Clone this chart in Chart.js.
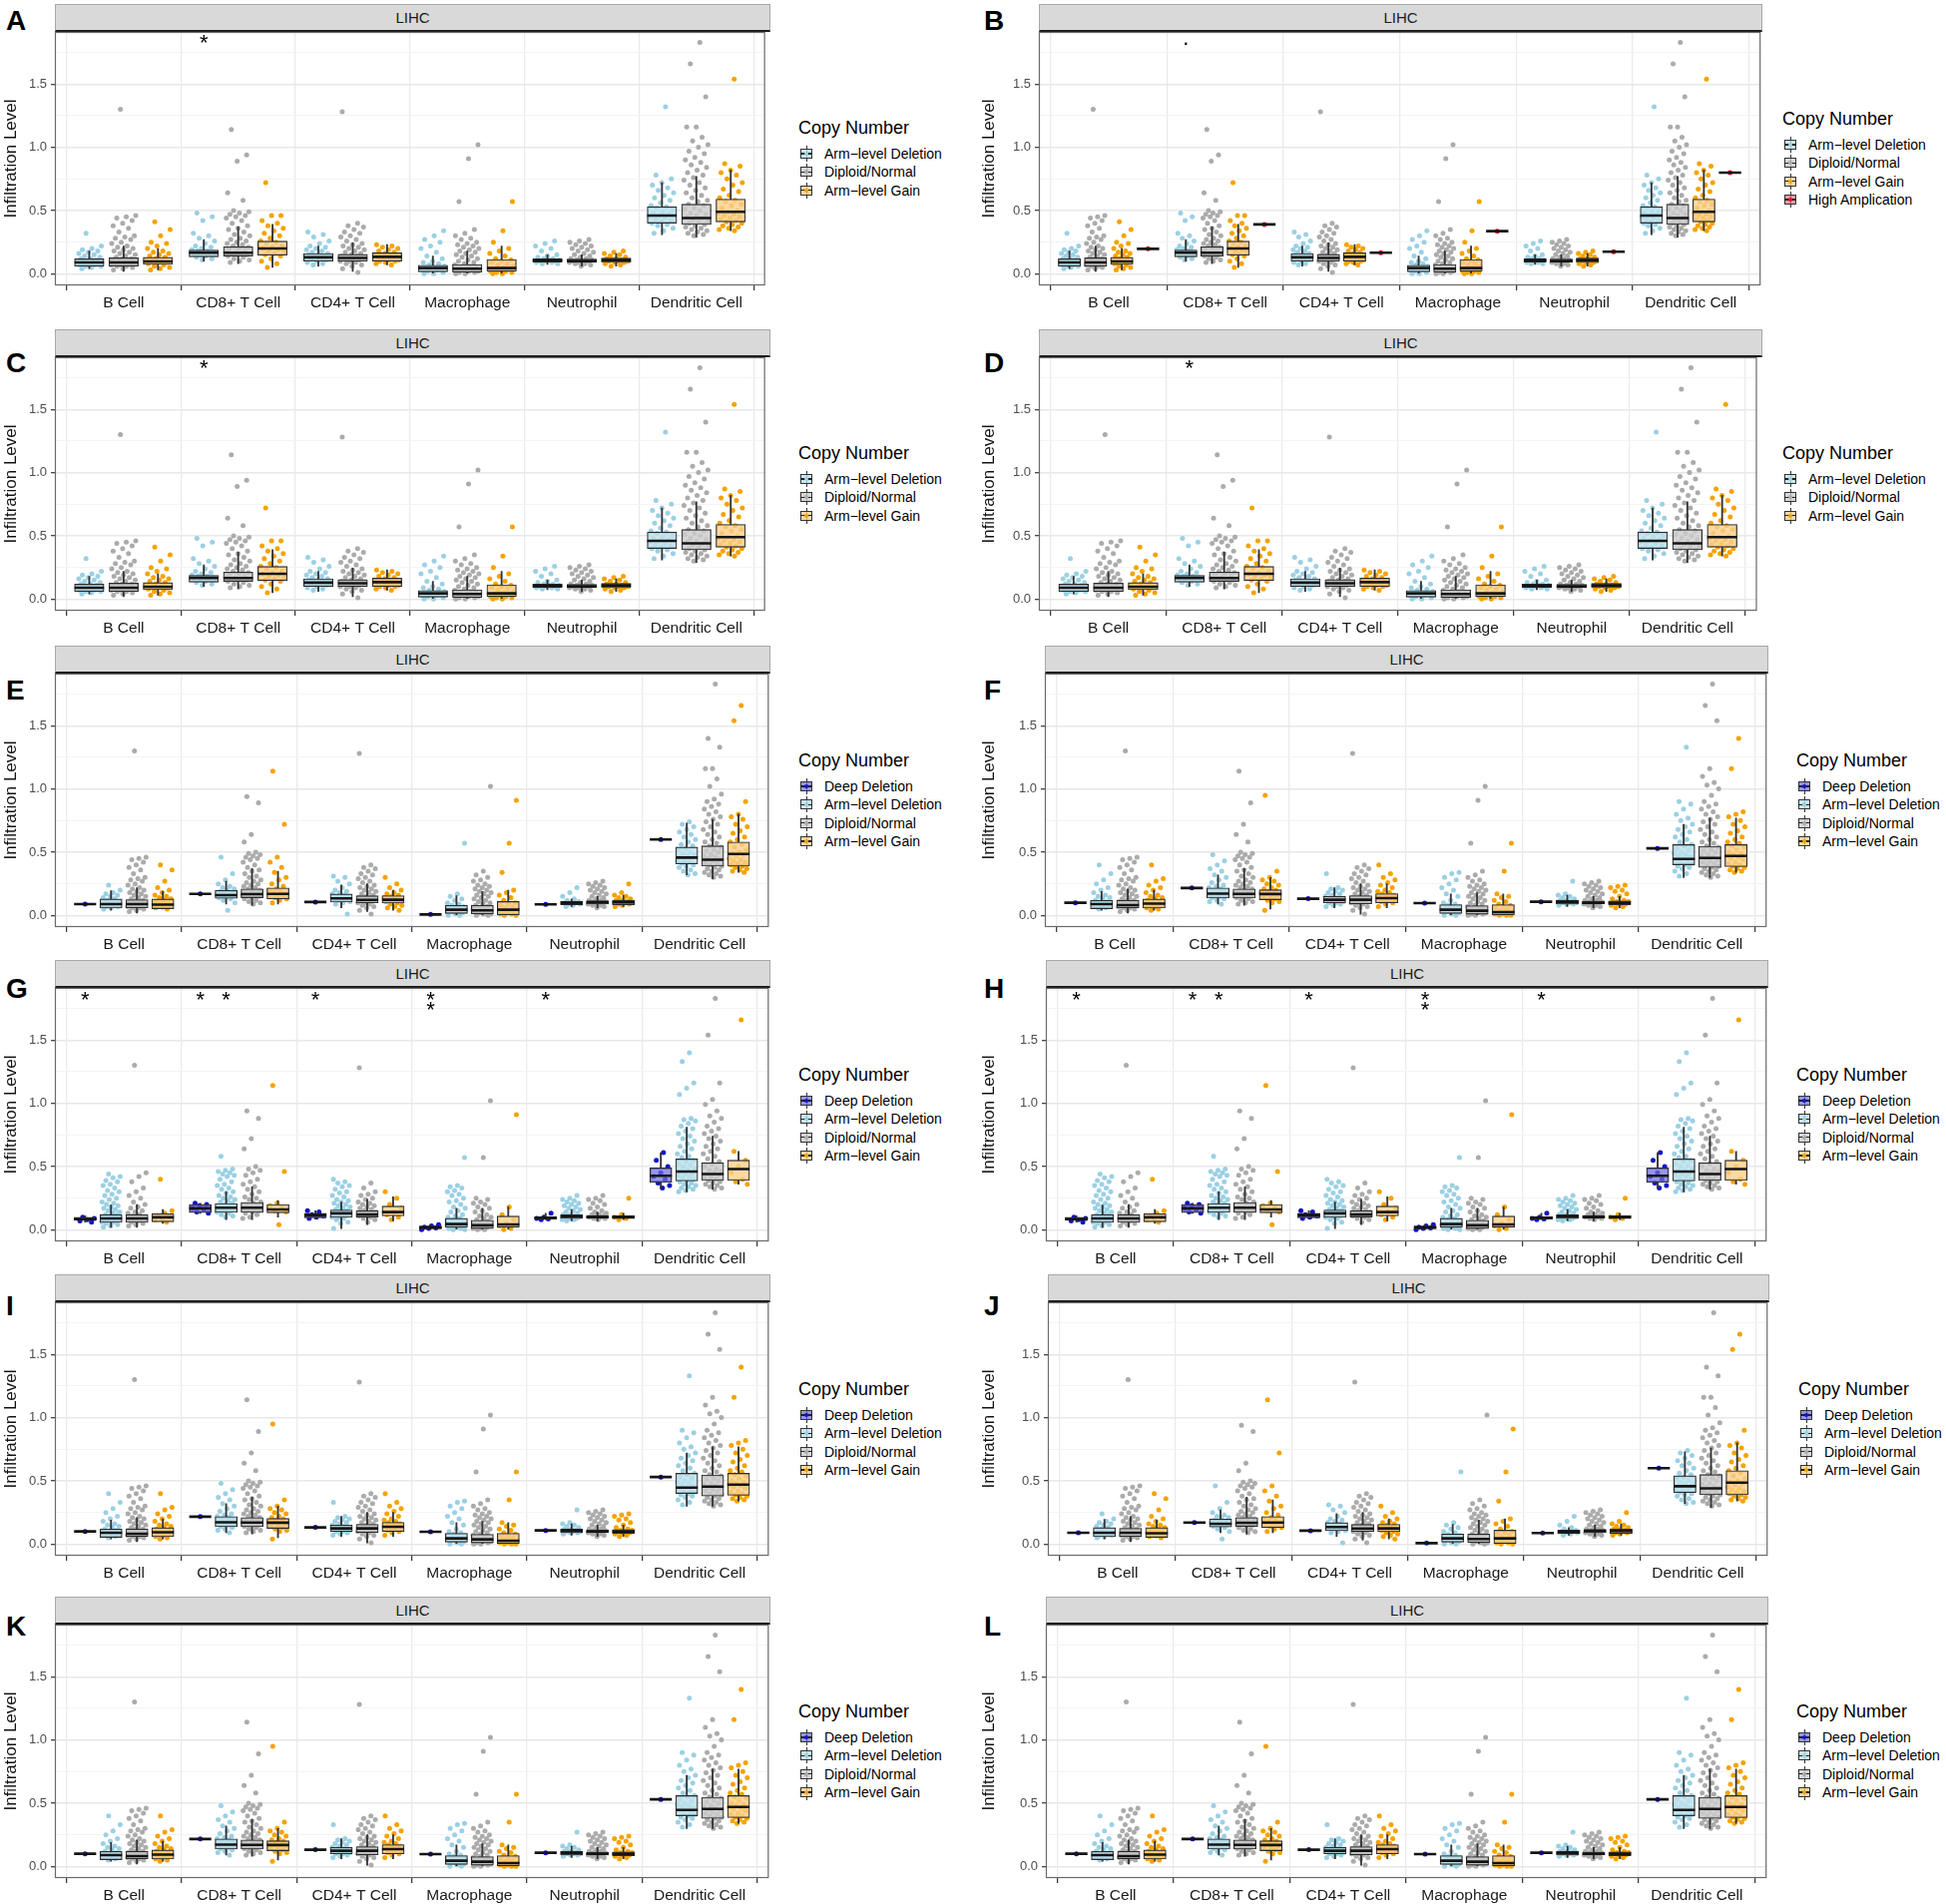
<!DOCTYPE html>
<html><head><meta charset="utf-8">
<script src="https://cdn.jsdelivr.net/npm/chart.js@4.4.1/dist/chart.umd.min.js"></script>
<style>
html,body{margin:0;padding:0;background:#fff;}
#root{position:relative;width:1950px;height:1908px;overflow:hidden;background:#fff;font-family:'Liberation Sans',Arial,Helvetica,sans-serif;}
.strip{position:absolute;height:28px;box-sizing:border-box;background:#d9d9d9;border:1px solid #a8a8a8;border-bottom:2px solid #1a1a1a;text-align:center;font-size:15px;line-height:26px;color:#1a1a1a;}
.letter{position:absolute;font-weight:bold;font-size:28px;line-height:30px;color:#000;}
.legend{position:absolute;color:#000;}
.legend .ttl{font-size:18px;line-height:22px;height:22px;margin-bottom:6px;white-space:nowrap;}
.legend .it{position:relative;height:18.3px;line-height:18.3px;font-size:14px;padding-left:26px;white-space:nowrap;}
.glyph{position:absolute;left:1px;top:1px;width:14px;height:16px;}
.glyph .wh{position:absolute;left:6.5px;top:0;width:1px;height:16px;background:#333;}
.glyph .bx{position:absolute;left:1px;top:3px;width:12px;height:10px;box-sizing:border-box;border:1px solid #333;}
.glyph .md{position:absolute;left:1px;top:7.3px;width:12px;height:1.5px;background:#222;}
.glyph .dt{position:absolute;left:5px;top:6px;width:4px;height:4px;border-radius:2px;}
canvas{position:absolute;}
</style>
</head><body><div id="root"></div>
<script>
// ---------- categories / labels ----------
const cells = ['B Cell','CD8+ T Cell','CD4+ T Cell','Macrophage','Neutrophil','Dendritic Cell'];
const yTicks = [0,0.25,0.5,0.75,1,1.25,1.5,1.75];
const groupLabels = {deep:'Deep Deletion', del:'Arm\u2212level Deletion', dip:'Diploid/Normal', gain:'Arm\u2212level Gain', amp:'High Amplication'};
const stripText = 'LIHC';
const legendTitle = 'Copy Number';
const yTitle = 'Infiltration Level';

// ---------- box stats per cell: [lower whisker, Q1, median, Q3, upper whisker] ----------
// Set A (panels A, B, C, D)
const boxA_del  = [[0.04,0.06,0.089,0.118,0.18],[0.10,0.134,0.166,0.187,0.27],[0.06,0.10,0.13,0.16,0.22],[0.0,0.016,0.045,0.068,0.14],[0.075,0.092,0.105,0.118,0.15],[0.31,0.40,0.46,0.53,0.72]];
const boxA_dip  = [[0.02,0.06,0.09,0.126,0.22],[0.08,0.14,0.166,0.213,0.37],[0.02,0.10,0.125,0.153,0.245],[0.0,0.013,0.04,0.074,0.18],[0.06,0.09,0.10,0.116,0.15],[0.29,0.39,0.44,0.55,0.77]];
const boxA_gain = [[0.03,0.074,0.097,0.13,0.2],[0.05,0.147,0.2,0.258,0.39],[0.07,0.10,0.134,0.165,0.23],[0.0,0.02,0.045,0.113,0.22],[0.06,0.09,0.108,0.124,0.16],[0.34,0.41,0.49,0.59,0.82]];
const ampB = [0.197,0.39,0.166,0.337,0.174,0.80];
// Set E (panels E, J)
const deepE = [0.09,0.17,0.106,0.008,0.087,0.6];
const boxE_del  = [[0.04,0.058,0.09,0.13,0.195],[0.09,0.135,0.161,0.198,0.27],[0.06,0.106,0.135,0.169,0.24],[0.0,0.016,0.045,0.079,0.155],[0.07,0.085,0.098,0.11,0.13],[0.32,0.407,0.457,0.54,0.73]];
const boxE_dip  = [[0.02,0.06,0.09,0.125,0.22],[0.08,0.14,0.168,0.21,0.37],[0.03,0.10,0.123,0.155,0.25],[0.0,0.012,0.04,0.08,0.19],[0.06,0.09,0.103,0.116,0.15],[0.29,0.39,0.44,0.55,0.76]];
const boxE_gain = [[0.05,0.053,0.085,0.13,0.19],[0.09,0.13,0.17,0.217,0.35],[0.04,0.098,0.124,0.156,0.2],[0.0,0.005,0.045,0.11,0.2],[0.07,0.085,0.103,0.12,0.16],[0.34,0.39,0.486,0.58,0.8]];
// Set F (panels F, I, K, L)
const deepF = [0.1,0.217,0.132,0.097,0.108,0.53];
const boxF_del  = [[0.04,0.053,0.09,0.119,0.19],[0.09,0.137,0.172,0.217,0.32],[0.06,0.10,0.124,0.15,0.22],[0.0,0.016,0.045,0.085,0.17],[0.07,0.09,0.106,0.12,0.16],[0.30,0.40,0.446,0.56,0.72]];
const boxF_dip  = [[0.02,0.06,0.082,0.12,0.21],[0.08,0.137,0.17,0.21,0.37],[0.01,0.092,0.124,0.156,0.25],[0.0,0.01,0.037,0.077,0.18],[0.06,0.09,0.10,0.113,0.15],[0.30,0.38,0.454,0.547,0.77]];
const boxF_gain = [[0.04,0.058,0.093,0.13,0.2],[0.05,0.124,0.169,0.203,0.3],[0.06,0.10,0.137,0.172,0.25],[0.0,0.005,0.026,0.085,0.17],[0.06,0.085,0.10,0.115,0.15],[0.34,0.385,0.47,0.56,0.77]];
// Set G (panels G, H)
const boxG_deep = [[0.06,0.074,0.084,0.098,0.11],[0.13,0.135,0.169,0.2,0.21],[0.09,0.095,0.116,0.13,0.15],[0.0,0.008,0.018,0.03,0.04],[0.08,0.084,0.095,0.102,0.13],[0.33,0.374,0.427,0.49,0.61]];
const boxG_del  = [[0.02,0.058,0.09,0.12,0.195],[0.08,0.137,0.174,0.208,0.3],[0.01,0.098,0.13,0.156,0.22],[0.0,0.02,0.045,0.09,0.17],[0.07,0.09,0.105,0.118,0.16],[0.30,0.385,0.46,0.56,0.81]];
const boxG_dip  = [[0.02,0.058,0.09,0.12,0.2],[0.08,0.137,0.174,0.216,0.34],[0.04,0.10,0.12,0.15,0.24],[0.0,0.01,0.035,0.075,0.17],[0.07,0.092,0.10,0.112,0.14],[0.32,0.39,0.44,0.53,0.74]];
const boxG_gain = [[0.05,0.063,0.098,0.127,0.16],[0.10,0.134,0.16,0.2,0.23],[0.07,0.11,0.14,0.187,0.26],[0.0,0.02,0.042,0.108,0.18],[0.08,0.088,0.10,0.11,0.13],[0.36,0.39,0.48,0.55,0.62]];

// ---------- sample points (infiltration level) per cell ----------
// Diploid/Normal bulk shared by sets A, E, F, plus per-set outlying samples
const dipCore = [
 [0.46,0.45,0.44,0.42,0.4,0.38,0.36,0.33,0.3,0.29,0.28,0.27,0.25,0.24,0.22,0.21,0.2,0.19,0.18,0.17,0.16,0.15,0.14,0.13,0.12,0.12,0.11,0.1,0.1,0.09,0.09,0.08,0.08,0.07,0.07,0.06,0.06,0.05,0.04,0.03],
 [0.5,0.49,0.48,0.47,0.46,0.45,0.44,0.42,0.4,0.38,0.36,0.35,0.33,0.31,0.3,0.28,0.27,0.26,0.25,0.24,0.23,0.22,0.21,0.2,0.19,0.18,0.17,0.17,0.16,0.16,0.15,0.15,0.14,0.13,0.12,0.11,0.1,0.09],
 [0.4,0.38,0.37,0.35,0.33,0.32,0.3,0.29,0.27,0.26,0.24,0.23,0.22,0.21,0.2,0.19,0.18,0.17,0.16,0.15,0.14,0.14,0.13,0.13,0.12,0.12,0.11,0.1,0.1,0.09,0.08,0.07,0.06,0.04,0.01],
 [0.35,0.32,0.3,0.28,0.27,0.25,0.24,0.23,0.22,0.21,0.2,0.19,0.18,0.17,0.16,0.15,0.14,0.13,0.12,0.11,0.1,0.09,0.08,0.07,0.06,0.05,0.05,0.04,0.04,0.03,0.03,0.02,0.02,0.01,0.01,0.0,0.0],
 [0.27,0.26,0.25,0.24,0.23,0.22,0.21,0.2,0.19,0.18,0.17,0.16,0.15,0.14,0.13,0.12,0.12,0.11,0.11,0.1,0.1,0.1,0.09,0.09,0.08,0.08,0.07,0.06],
 [0.9,0.88,0.86,0.84,0.82,0.8,0.78,0.76,0.74,0.72,0.7,0.68,0.66,0.64,0.62,0.6,0.58,0.57,0.55,0.54,0.52,0.51,0.5,0.48,0.47,0.46,0.45,0.44,0.43,0.42,0.41,0.4,0.39,0.38,0.37,0.36,0.35,0.34,0.33,0.32,0.31,0.3]];
const outA_dip = [[1.3],[1.14,0.94,0.89,0.64,0.58],[1.28],[1.02,0.91,0.57],[],[1.83,1.66,1.4,1.16,1.16,1.08,1.05,1.02,1.0,0.97,0.95,0.92]];
const outE_dip = [[1.3],[0.94,0.89,0.64,0.58],[1.28],[1.02],[],[1.83,1.4,1.33,1.16,1.16,1.08,1.02,0.96,0.92]];
const outF_dip = [[1.3],[1.14,0.89,0.72,0.64,0.58],[1.28],[1.02,0.91,0.57],[],[1.83,1.66,1.54,1.16,1.1,1.05,1.03,1.0,0.95]];

const ptsA_del = [
 [0.32,0.22,0.2,0.19,0.18,0.17,0.16,0.15,0.14,0.13,0.12,0.12,0.11,0.1,0.1,0.09,0.09,0.08,0.08,0.07,0.07,0.06,0.06,0.05,0.04],
 [0.48,0.45,0.42,0.32,0.3,0.28,0.26,0.24,0.22,0.21,0.2,0.19,0.18,0.18,0.17,0.17,0.16,0.16,0.15,0.15,0.14,0.13,0.12,0.11],
 [0.33,0.31,0.29,0.26,0.24,0.22,0.21,0.2,0.19,0.18,0.17,0.16,0.15,0.15,0.14,0.14,0.13,0.12,0.12,0.11,0.1,0.09,0.08,0.07],
 [0.34,0.3,0.27,0.25,0.22,0.2,0.17,0.14,0.12,0.1,0.09,0.08,0.07,0.06,0.05,0.05,0.04,0.04,0.03,0.03,0.02,0.01,0.0,0.0],
 [0.26,0.24,0.22,0.2,0.18,0.15,0.14,0.13,0.12,0.12,0.11,0.11,0.1,0.1,0.1,0.09,0.09,0.08,0.08],
 [1.32,0.78,0.75,0.72,0.7,0.68,0.66,0.64,0.62,0.6,0.58,0.56,0.54,0.53,0.52,0.5,0.49,0.48,0.47,0.46,0.45,0.44,0.43,0.42,0.41,0.4,0.39,0.38,0.36,0.34,0.32]];
const ptsA_gain = [
 [0.41,0.35,0.3,0.25,0.24,0.22,0.2,0.18,0.17,0.16,0.15,0.14,0.13,0.12,0.11,0.1,0.1,0.09,0.09,0.08,0.07,0.06,0.05,0.04,0.03],
 [0.72,0.46,0.46,0.42,0.4,0.38,0.36,0.34,0.32,0.3,0.28,0.26,0.25,0.24,0.22,0.21,0.2,0.19,0.18,0.17,0.16,0.15,0.14,0.12,0.1,0.08,0.05],
 [0.23,0.22,0.21,0.2,0.19,0.18,0.17,0.16,0.15,0.15,0.14,0.14,0.13,0.13,0.12,0.12,0.11,0.11,0.1,0.1,0.09,0.08,0.07],
 [0.57,0.34,0.25,0.2,0.18,0.16,0.14,0.12,0.11,0.1,0.09,0.08,0.07,0.06,0.05,0.04,0.04,0.03,0.02,0.02,0.01,0.01,0.0,0.0],
 [0.18,0.17,0.16,0.15,0.14,0.13,0.12,0.12,0.11,0.11,0.1,0.1,0.1,0.09,0.09,0.08,0.07,0.06],
 [1.54,0.87,0.85,0.82,0.8,0.78,0.75,0.72,0.7,0.67,0.65,0.62,0.6,0.58,0.57,0.55,0.54,0.52,0.5,0.49,0.48,0.47,0.46,0.45,0.44,0.43,0.42,0.41,0.4,0.39,0.38,0.37,0.36,0.35,0.34]];
const ptsE_del = [
 [0.24,0.2,0.18,0.17,0.16,0.15,0.14,0.13,0.12,0.11,0.1,0.1,0.09,0.09,0.08,0.08,0.07,0.07,0.06,0.05],
 [0.46,0.33,0.28,0.25,0.23,0.22,0.21,0.2,0.19,0.18,0.17,0.17,0.16,0.16,0.15,0.15,0.14,0.13,0.12,0.1,0.04],
 [0.31,0.3,0.27,0.25,0.22,0.2,0.19,0.18,0.17,0.16,0.15,0.14,0.14,0.13,0.13,0.12,0.11,0.1,0.09,0.01],
 [0.57,0.17,0.15,0.13,0.12,0.1,0.09,0.08,0.07,0.06,0.05,0.05,0.04,0.04,0.03,0.03,0.02,0.01,0.0,0.0],
 [0.22,0.18,0.15,0.13,0.12,0.11,0.1,0.1,0.1,0.09,0.09,0.08,0.07],
 [0.74,0.72,0.7,0.68,0.66,0.64,0.62,0.6,0.58,0.56,0.55,0.53,0.52,0.5,0.49,0.48,0.47,0.46,0.45,0.44,0.43,0.42,0.41,0.4,0.39,0.38,0.36,0.35,0.33,0.32]];
const ptsE_gain = [
 [0.4,0.36,0.27,0.22,0.2,0.18,0.16,0.15,0.14,0.13,0.12,0.11,0.1,0.1,0.09,0.09,0.08,0.07,0.07,0.06,0.05],
 [1.14,0.72,0.46,0.42,0.38,0.34,0.3,0.28,0.25,0.23,0.21,0.2,0.19,0.18,0.17,0.16,0.16,0.15,0.14,0.13,0.12,0.1],
 [0.3,0.25,0.22,0.2,0.18,0.17,0.16,0.15,0.14,0.13,0.13,0.12,0.12,0.11,0.1,0.09,0.08,0.07,0.06,0.04],
 [0.91,0.57,0.34,0.2,0.18,0.16,0.14,0.12,0.1,0.09,0.08,0.07,0.06,0.05,0.04,0.03,0.03,0.02,0.01,0.01,0.0,0.0],
 [0.25,0.18,0.16,0.15,0.14,0.13,0.12,0.12,0.11,0.11,0.1,0.1,0.09,0.09,0.08,0.07],
 [1.66,1.54,0.9,0.8,0.78,0.76,0.72,0.7,0.67,0.65,0.62,0.6,0.58,0.56,0.54,0.52,0.5,0.49,0.48,0.47,0.45,0.44,0.43,0.42,0.41,0.4,0.39,0.38,0.37,0.36,0.35,0.34]];
const ptsF_del = [
 [0.4,0.33,0.28,0.25,0.22,0.2,0.18,0.16,0.15,0.14,0.13,0.12,0.11,0.1,0.1,0.09,0.09,0.08,0.08,0.07,0.06,0.05],
 [0.48,0.43,0.4,0.37,0.35,0.32,0.3,0.28,0.26,0.24,0.23,0.22,0.21,0.2,0.19,0.18,0.17,0.17,0.16,0.16,0.15,0.14,0.13,0.12,0.11,0.09],
 [0.33,0.22,0.21,0.2,0.19,0.18,0.17,0.16,0.15,0.14,0.14,0.13,0.13,0.12,0.12,0.11,0.11,0.1,0.1,0.09,0.08,0.07],
 [0.34,0.33,0.3,0.28,0.25,0.22,0.2,0.17,0.15,0.12,0.1,0.09,0.08,0.07,0.06,0.05,0.05,0.04,0.04,0.03,0.03,0.02,0.01,0.0,0.0],
 [0.27,0.17,0.16,0.15,0.14,0.13,0.12,0.12,0.11,0.11,0.1,0.1,0.1,0.09,0.09,0.08],
 [1.33,0.9,0.88,0.84,0.8,0.77,0.75,0.72,0.7,0.68,0.66,0.64,0.62,0.6,0.58,0.56,0.55,0.53,0.52,0.5,0.49,0.48,0.47,0.46,0.45,0.44,0.43,0.42,0.41,0.4,0.39,0.38,0.37,0.35,0.33,0.31]];
const ptsF_gain = [
 [0.4,0.29,0.27,0.24,0.22,0.2,0.18,0.16,0.15,0.14,0.13,0.12,0.11,0.1,0.1,0.09,0.09,0.08,0.07,0.06,0.05,0.04],
 [0.95,0.35,0.3,0.28,0.27,0.25,0.24,0.22,0.21,0.2,0.19,0.18,0.17,0.17,0.16,0.15,0.14,0.13,0.12,0.11,0.1,0.04],
 [0.4,0.33,0.3,0.28,0.26,0.24,0.22,0.2,0.19,0.18,0.17,0.16,0.15,0.14,0.14,0.13,0.12,0.12,0.11,0.1,0.09,0.07],
 [0.57,0.35,0.17,0.15,0.14,0.12,0.11,0.09,0.08,0.07,0.06,0.05,0.04,0.03,0.03,0.02,0.02,0.01,0.01,0.0,0.0,0.0],
 [0.24,0.23,0.22,0.2,0.19,0.17,0.15,0.13,0.12,0.11,0.11,0.1,0.1,0.09,0.09,0.08,0.07,0.06],
 [1.4,1.16,0.82,0.8,0.78,0.75,0.72,0.7,0.67,0.65,0.62,0.6,0.58,0.57,0.55,0.54,0.52,0.5,0.49,0.48,0.47,0.46,0.45,0.44,0.42,0.41,0.4,0.39,0.38,0.37,0.36,0.35,0.34]];
const ptsG_deep = [
 [0.1,0.09,0.08,0.07,0.06],
 [0.21,0.2,0.19,0.17,0.16,0.14,0.13],
 [0.15,0.14,0.12,0.11,0.1,0.09],
 [0.04,0.03,0.02,0.015,0.01,0.0],
 [0.13,0.1,0.09,0.085,0.08],
 [0.61,0.55,0.5,0.45,0.42,0.4,0.37,0.35,0.33]];
const ptsG_del = [
 [0.44,0.42,0.41,0.39,0.38,0.36,0.35,0.33,0.31,0.3,0.28,0.27,0.25,0.24,0.22,0.21,0.2,0.19,0.18,0.17,0.16,0.15,0.14,0.13,0.12,0.12,0.11,0.1,0.1,0.09,0.09,0.08,0.08,0.07,0.07,0.06,0.06,0.05,0.04,0.03,0.02],
 [0.58,0.48,0.47,0.46,0.45,0.44,0.43,0.42,0.4,0.38,0.36,0.35,0.33,0.32,0.3,0.29,0.27,0.26,0.25,0.24,0.23,0.22,0.21,0.2,0.19,0.18,0.17,0.17,0.16,0.16,0.15,0.15,0.14,0.13,0.12,0.11,0.1],
 [0.4,0.38,0.37,0.35,0.34,0.32,0.3,0.29,0.27,0.26,0.24,0.23,0.22,0.21,0.2,0.19,0.18,0.17,0.16,0.15,0.15,0.14,0.14,0.13,0.13,0.12,0.12,0.11,0.1,0.1,0.09,0.08,0.06,0.05,0.01],
 [0.57,0.35,0.34,0.33,0.31,0.3,0.28,0.27,0.25,0.23,0.22,0.2,0.18,0.17,0.15,0.14,0.12,0.11,0.1,0.09,0.08,0.07,0.06,0.05,0.05,0.04,0.04,0.03,0.03,0.02,0.02,0.01,0.01,0.0,0.0],
 [0.27,0.25,0.24,0.23,0.22,0.21,0.2,0.19,0.18,0.17,0.16,0.15,0.14,0.13,0.12,0.12,0.11,0.11,0.1,0.1,0.1,0.09,0.09,0.08,0.08,0.07],
 [1.4,1.33,1.16,1.12,1.07,0.88,0.87,0.86,0.84,0.82,0.8,0.78,0.76,0.74,0.72,0.7,0.68,0.66,0.64,0.62,0.6,0.58,0.57,0.55,0.54,0.52,0.51,0.5,0.48,0.47,0.46,0.45,0.44,0.43,0.42,0.41,0.4,0.39,0.38,0.37,0.36,0.35,0.34,0.33,0.32,0.31,0.3]];
const ptsG_dip = [
 [1.3,0.45,0.42,0.38,0.33,0.3,0.27,0.25,0.22,0.2,0.18,0.17,0.15,0.14,0.13,0.12,0.11,0.1,0.1,0.09,0.09,0.08,0.08,0.07,0.06,0.05,0.04,0.03],
 [0.94,0.88,0.72,0.64,0.5,0.48,0.47,0.45,0.43,0.4,0.38,0.36,0.34,0.32,0.3,0.28,0.26,0.25,0.24,0.22,0.21,0.2,0.19,0.18,0.17,0.17,0.16,0.15,0.14,0.13,0.12,0.1,0.09],
 [1.28,0.37,0.33,0.3,0.28,0.27,0.25,0.24,0.22,0.21,0.2,0.19,0.18,0.17,0.16,0.15,0.14,0.13,0.13,0.12,0.12,0.11,0.1,0.09,0.08,0.06],
 [1.02,0.57,0.25,0.24,0.22,0.21,0.2,0.18,0.17,0.15,0.14,0.12,0.11,0.1,0.09,0.08,0.07,0.06,0.05,0.04,0.04,0.03,0.03,0.02,0.02,0.01,0.01,0.0,0.0],
 [0.27,0.25,0.24,0.23,0.21,0.2,0.18,0.17,0.15,0.14,0.13,0.12,0.12,0.11,0.11,0.1,0.1,0.09,0.09,0.08],
 [1.83,1.54,1.16,1.03,0.99,0.94,0.9,0.88,0.85,0.82,0.8,0.78,0.76,0.74,0.72,0.7,0.68,0.66,0.64,0.62,0.6,0.58,0.56,0.54,0.52,0.5,0.48,0.47,0.46,0.45,0.44,0.43,0.42,0.41,0.4,0.39,0.38,0.37,0.36,0.35,0.34,0.33,0.32]];
const ptsG_gain = [
 [0.4,0.15,0.13,0.11,0.1,0.09,0.08,0.06],
 [1.14,0.46,0.21,0.19,0.17,0.15,0.14,0.04],
 [0.3,0.25,0.2,0.17,0.14,0.12,0.1,0.08],
 [0.91,0.18,0.12,0.08,0.05,0.03,0.01,0.0],
 [0.25,0.12,0.1,0.09,0.08],
 [1.66,0.62,0.55,0.5,0.45,0.4,0.38,0.36]];

// ---------- significance marks: [cell index, group, label, level] ----------
const starsACD = [[1,'del','*',1.857]];
const starsB   = [[1,'del','.',1.82]];
const starsGH  = [[0,'deep','*',1.85],[1,'deep','*',1.85],[1,'del','*',1.85],[2,'deep','*',1.85],[3,'deep','*',1.85],[3,'deep','*',1.772],[4,'deep','*',1.85]];

// ---------- assemble data sets ----------
const single = vals => ({box: vals.map(v=>[v,v,v,v,v]), pts: vals.map(v=>[v])});
const joinPts = (a, b) => a.map((arr,i)=> arr.concat(b[i]));
const dataSets = {
  A: {del:{box:boxA_del,pts:ptsA_del}, dip:{box:boxA_dip,pts:joinPts(outA_dip,dipCore)}, gain:{box:boxA_gain,pts:ptsA_gain}, amp: single(ampB)},
  E: {deep: single(deepE), del:{box:boxE_del,pts:ptsE_del}, dip:{box:boxE_dip,pts:joinPts(outE_dip,dipCore)}, gain:{box:boxE_gain,pts:ptsE_gain}},
  F: {deep: single(deepF), del:{box:boxF_del,pts:ptsF_del}, dip:{box:boxF_dip,pts:joinPts(outF_dip,dipCore)}, gain:{box:boxF_gain,pts:ptsF_gain}},
  G: {deep:{box:boxG_deep,pts:ptsG_deep}, del:{box:boxG_del,pts:ptsG_del}, dip:{box:boxG_dip,pts:ptsG_dip}, gain:{box:boxG_gain,pts:ptsG_gain}}
};

// ---------- styles ----------
const FONT = "'Liberation Sans', Arial, Helvetica, sans-serif";
const groupStyle = {
  deep: {pt:'#1414c8', fill:'rgba(110,110,225,0.72)'},
  del:  {pt:'#9bd0e4', fill:'rgba(190,226,238,0.8)'},
  dip:  {pt:'#ababab', fill:'rgba(205,205,205,0.8)'},
  gain: {pt:'#f5a300', fill:'rgba(250,208,140,0.8)'},
  amp:  {pt:'#e8102c', fill:'rgba(235,110,130,0.7)'}
};
const rowTop = [4, 330, 647, 962, 1277, 1600];
const letterMid = [17, 34, 45, 29, 32, 30];
const G3 = ['del','dip','gain'], G4 = ['deep','del','dip','gain'];
const panels = [
 {id:'A',col:0,row:0,set:'A',groups:G3,stars:starsACD,pl:55,pr:772,lx:800},
 {id:'B',col:1,row:0,set:'A',groups:['del','dip','gain','amp'],stars:starsB,pl:1041,pr:1766,lx:1786},
 {id:'C',col:0,row:1,set:'A',groups:G3,stars:starsACD,pl:55,pr:772,lx:800},
 {id:'D',col:1,row:1,set:'A',groups:G3,stars:starsACD,pl:1041,pr:1766,lx:1786},
 {id:'E',col:0,row:2,set:'E',groups:G4,stars:[],pl:55,pr:772,lx:800},
 {id:'F',col:1,row:2,set:'F',groups:G4,stars:[],pl:1047,pr:1772,lx:1800},
 {id:'G',col:0,row:3,set:'G',groups:G4,stars:starsGH,pl:55,pr:772,lx:800},
 {id:'H',col:1,row:3,set:'G',groups:G4,stars:starsGH,pl:1048,pr:1772,lx:1800},
 {id:'I',col:0,row:4,set:'F',groups:G4,stars:[],pl:55,pr:772,lx:800},
 {id:'J',col:1,row:4,set:'E',groups:G4,stars:[],pl:1050,pr:1773,lx:1802},
 {id:'K',col:0,row:5,set:'F',groups:G4,stars:[],pl:55,pr:772,lx:800},
 {id:'L',col:1,row:5,set:'F',groups:G4,stars:[],pl:1048,pr:1772,lx:1800}
];

Chart.defaults.font.family = FONT;
const root = document.getElementById('root');
const isMajor = v => Math.abs(v*2 - Math.round(v*2)) < 1e-6;
const jit = k => ((k * 0.6180339887 + 0.37) % 1) - 0.5;

function el(tag, cls, css, text){ const e=document.createElement(tag); if(cls) e.className=cls; Object.assign(e.style, css||{}); if(text!=null) e.textContent=text; root.appendChild(e); return e; }

const framePlugin = {
  id:'frame',
  afterDatasetsDraw(chart, args, opts){
    const {ctx, chartArea:a, scales:{x,y}} = chart;
    ctx.save();
    ctx.fillStyle = '#000'; ctx.textAlign='center'; ctx.textBaseline='alphabetic';
    ctx.font = '22px ' + FONT;
    (opts.stars||[]).forEach(s=>{
      const px = x.getPixelForValue(s[0] + 1 + opts.offsets[s[1]]);
      const py = y.getPixelForValue(s[3]);
      const m = ctx.measureText(s[2]);
      const base = py + (m.actualBoundingBoxAscent - m.actualBoundingBoxDescent)/2;
      ctx.fillText(s[2], px, base);
    });
    ctx.strokeStyle = '#6a6a6a'; ctx.lineWidth = 1.2;
    ctx.strokeRect(a.left+0.5, a.top+0.5, a.right-a.left-1, a.bottom-a.top-1);
    ctx.restore();
  }
};

panels.forEach(p=>{
  const T = rowTop[p.row];
  const cx = p.col===0 ? 0 : 980;
  const cw = p.pr - cx + 12;
  const ch = 320;
  const n = p.groups.length;
  const band = (p.pr - p.pl) / 6.2;
  const slot = 0.9 / n;
  const boxPx = band * slot * 0.85;
  const offsets = {};
  p.groups.forEach((g,gi)=>{ offsets[g] = (gi - (n-1)/2) * slot; });
  const ds = dataSets[p.set];

  el('div','letter',{left:(cx+6)+'px', top:(T+letterMid[p.row]-15)+'px'}, p.id);
  el('div','strip',{left:p.pl+'px', top:T+'px', width:(p.pr-p.pl)+'px'}, stripText);
  const titleC = 124 - 9*(n-3);
  const lg = el('div','legend',{left:p.lx+'px', top:(T+titleC-11)+'px'});
  const tt = document.createElement('div'); tt.className='ttl'; tt.textContent = legendTitle; lg.appendChild(tt);
  p.groups.forEach(g=>{
    const it = document.createElement('div'); it.className='it';
    const gl = document.createElement('div'); gl.className='glyph';
    gl.innerHTML = '<div class="wh"></div><div class="bx" style="background:'+groupStyle[g].fill+'"></div><div class="md"></div><div class="dt" style="background:'+groupStyle[g].pt+'"></div>';
    it.appendChild(gl);
    it.appendChild(document.createTextNode(groupLabels[g]));
    lg.appendChild(it);
  });

  const cv = document.createElement('canvas');
  cv.width = cw; cv.height = ch;
  cv.style.left = cx+'px'; cv.style.top = T+'px';
  cv.style.width = cw+'px'; cv.style.height = ch+'px';
  root.appendChild(cv);

  const datasets = [];
  p.groups.forEach(g=>{
    const st = ds[g].box, pts = ds[g].pts, sty = groupStyle[g], off = offsets[g];
    const pdata = [];
    cells.forEach((c,ci)=> pts[ci].forEach((v,k)=> pdata.push({x: ci+1+off + (pts[ci].length>1 ? jit(k+ci*3)*boxPx*0.85/band : 0), y: v})));
    datasets.push({type:'scatter', label:groupLabels[g], data:pdata, pointRadius:2.5, pointHoverRadius:2.5, backgroundColor:sty.pt, borderWidth:0, order:6});
    datasets.push({type:'bar', label:groupLabels[g]+' whisker', data: cells.map((c,ci)=>({x:ci+1+off, y:[st[ci][0], st[ci][1]]})), barThickness:1.2, backgroundColor:'#333', borderWidth:0, grouped:false, order:5});
    datasets.push({type:'bar', label:groupLabels[g]+' whisker', data: cells.map((c,ci)=>({x:ci+1+off, y:[st[ci][3], st[ci][4]]})), barThickness:1.2, backgroundColor:'#333', borderWidth:0, grouped:false, order:5});
    datasets.push({type:'bar', label:groupLabels[g]+' box', data: cells.map((c,ci)=>({x:ci+1+off, y:[st[ci][1], st[ci][3]]})), barThickness:boxPx, backgroundColor:sty.fill, borderColor:'#2b2b2b', borderWidth:1.1, borderSkipped:false, grouped:false, order:4});
    datasets.push({type:'scatter', label:groupLabels[g]+' median', data: cells.map((c,ci)=>({x:ci+1+off, y:st[ci][2]})), pointStyle:'line', pointRadius:boxPx/2, pointHoverRadius:boxPx/2, borderColor:'#141414', borderWidth:2.6, order:3});
  });

  const want = {left: p.pl - cx, right: p.pr - cx, top: 28, bottom: 282};
  const fit = {yw: want.left, xh: ch - want.bottom};
  const chart = new Chart(cv, {
    type:'bar',
    data:{datasets},
    plugins:[framePlugin],
    options:{
      responsive:false, animation:false, devicePixelRatio:1,
      layout:{padding:{left:0, right: cw - want.right, top: want.top, bottom:0}},
      plugins:{legend:{display:false}, tooltip:{enabled:false}, frame:{stars:p.stars, offsets}},
      scales:{
        x:{type:'linear', min:0.4, max:6.6, offset:false,
           afterBuildTicks: s => { s.ticks = cells.map((c,i)=>({value:i+1})); },
           afterFit: s => { s.height = fit.xh; },
           ticks:{callback: v => cells[Math.round(v)-1], font:{size:15.5}, color:'#1a1a1a', padding:3, maxRotation:0, autoSkip:false},
           grid:{color:'#ebebeb', lineWidth:1.3, tickColor:'#333', tickLength:5, tickWidth:1.2},
           border:{display:false}},
        y:{type:'linear', min:-0.092, max:1.912,
           afterBuildTicks: s => { s.ticks = yTicks.map(v=>({value:v})); },
           afterFit: s => { s.width = fit.yw; },
           ticks:{callback: v => isMajor(v) ? v.toFixed(1) : '', font:{size:13}, color:'#4d4d4d', padding:4, autoSkip:false},
           grid:{color: c => (c.tick && isMajor(c.tick.value)) ? '#e8e8e8' : '#f3f3f3',
                 lineWidth: c => (c.tick && isMajor(c.tick.value)) ? 1.4 : 0.9,
                 tickColor: c => (c.tick && isMajor(c.tick.value)) ? '#333' : 'rgba(0,0,0,0)',
                 tickLength:4, tickWidth:1.2},
           border:{display:false},
           title:{display:true, text:yTitle, font:{size:17}, color:'#111', padding:{top:1, bottom:0}}}
      }
    }
  });
  // nudge the layout so the plotting panel sits exactly under the strip
  for (let pass=0; pass<3; pass++){
    const a = chart.chartArea;
    const pad = chart.options.layout.padding;
    const dt = a.top - want.top, db = a.bottom - want.bottom, dl = a.left - want.left, dr = a.right - want.right;
    if (Math.abs(dt)<0.5 && Math.abs(db)<0.5 && Math.abs(dl)<0.5 && Math.abs(dr)<0.5) break;
    pad.top = pad.top - dt;
    fit.xh = fit.xh + db;
    fit.yw = fit.yw - dl;
    pad.right = pad.right + dr;
    chart.update('none');
  }
});
</script>
</body></html>
